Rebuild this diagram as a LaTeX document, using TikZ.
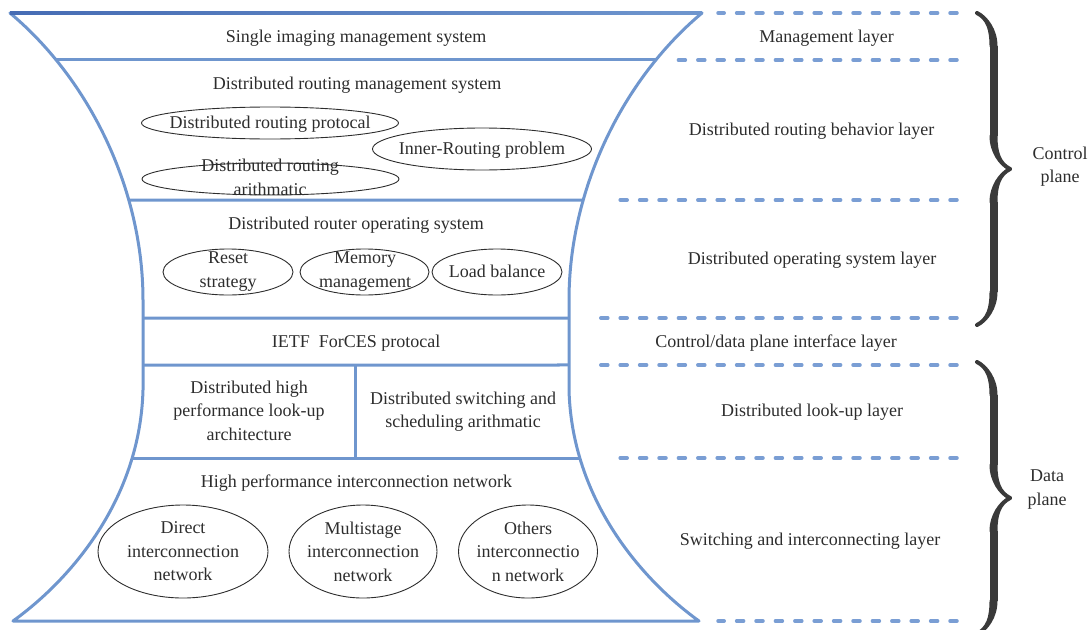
\documentclass[tikz,border=0pt]{standalone}
\usepackage{fontspec}
\setmainfont{Liberation Serif}
\usetikzlibrary{shapes.geometric,decorations.pathreplacing,intersections,calligraphy}

\definecolor{framebl}{RGB}{111,150,206}
\definecolor{framedk}{RGB}{70,108,180}
\definecolor{dashbl}{RGB}{122,158,212}
\definecolor{ink}{RGB}{45,45,45}
\definecolor{bracegray}{RGB}{58,58,58}

\begin{document}
\begin{tikzpicture}[x=1pt,y=-1pt,
  frame/.style={draw=framebl, line width=3pt, line join=round},
  divider/.style={draw=framebl, line width=3pt},
  dline/.style={draw=dashbl, line width=3.5pt, line cap=round, dash pattern=on 7pt off 12.4pt},
  txt/.style={inner sep=0pt, text=ink, font=\fontsize{18}{23.5}\selectfont, align=center, yshift=-1.5pt},
  one/.style={txt, text height=12.3pt, text depth=3.9pt},
  oval/.style={ellipse, draw=ink, line width=0.9pt, inner sep=0pt},
  plane/.style={decorate, decoration={calligraphic brace, amplitude=33pt}, pen colour=bracegray, line width=8pt},
]
\useasboundingbox (0,0) rectangle (1091,629);

% hourglass outline of the router stack
\draw[frame, name path=frame]
  (10,13) -- (702,13)
  .. controls (622,80) and (569,190) .. (569,300) -- (569,390)
  .. controls (572,500) and (642,580) .. (699,621) -- (13,621)
  .. controls (70,580) and (140,500) .. (143,390) -- (143,300)
  .. controls (143,190) and (90,80) .. (10,13) -- cycle;
\shade[left color=framedk, right color=framebl] (10,11.5) rectangle (702,14.5);

% horizontal layer separators, clipped to the outline
\path[name path=ha] (0,60) -- (720,60);
\path[name path=hb] (0,200) -- (720,200);
\path[name path=hc] (0,318) -- (720,318);
\path[name path=hd] (0,365) -- (720,365);
\path[name path=he] (0,458) -- (720,458);
\draw[divider, name intersections={of=frame and ha, name=pa}] (pa-1) -- (pa-2);
\draw[divider, name intersections={of=frame and hb, name=pb}] (pb-1) -- (pb-2);
\draw[divider, name intersections={of=frame and hc, name=pc}] (pc-1) -- (pc-2);
\draw[divider, name intersections={of=frame and hd, name=pd}] (pd-1) -- (pd-2);
\draw[divider, name intersections={of=frame and he, name=pe}] (pe-1) -- (pe-2);
\coordinate (vtop) at (355,365);
\coordinate (vbot) at (355,458);
\draw[divider] (vtop) -- (vbot);

% management layer
\node[one] (sims) at (356,37) {Single imaging management system};

% routing behaviour layer
\node[one] (drms) at (357,84) {Distributed routing management system};
\node[oval, minimum width=257pt, minimum height=32pt] (drp) at (270,123) {};
\node[one] at (drp) {Distributed routing protocal};
\node[oval, minimum width=219pt, minimum height=42pt] (irp) at (482,149) {};
\node[one] at (irp) {Inner-Routing problem};
\node[oval, minimum width=257pt, minimum height=32pt] (dra) at (270.5,179) {};
\node[txt] at (270,176) {Distributed routing\\arithmatic};

% operating system layer
\node[one] (dros) at (356,224) {Distributed router operating system};
\node[oval, minimum width=130pt, minimum height=46pt] (rst) at (228,272) {};
\node[txt] at (228,270) {Reset\\strategy};
\node[oval, minimum width=129pt, minimum height=46pt] (mem) at (364.5,272) {};
\node[txt] at (365,270) {Memory\\management};
\node[oval, minimum width=130pt, minimum height=46pt] (lb) at (497,272) {};
\node[one] at (lb) {Load balance};

% interface layer
\node[one] (forces) at (356,341.5) {IETF\ \ ForCES protocal};

% look-up layer
\node[txt] (lookup) at (249,409) {Distributed high\\performance look-up\\architecture};
\node[txt] (sched) at (463,410) {Distributed switching and\\scheduling arithmatic};

% switching layer
\node[one] (hpin) at (356.5,482) {High performance interconnection network};
\node[oval, minimum width=170pt, minimum height=93pt] (din) at (183,551.5) {};
\node[txt] at (183,550) {Direct\\interconnection\\network};
\node[oval, minimum width=148pt, minimum height=93pt] (min) at (363,551.5) {};
\node[txt] at (363,550) {Multistage\\interconnection\\network};
\node[oval, minimum width=139pt, minimum height=93pt] (oin) at (528,551.5) {};
\node[txt] at (528,550) {Others\\interconnectio\\n network};

% layer boundaries on the right
\coordinate (r0) at (957,13);  \coordinate (l0) at (718,13);
\coordinate (r1) at (957,60);  \coordinate (l1) at (676,60);
\coordinate (r2) at (957,200); \coordinate (l2) at (612,200);
\coordinate (r3) at (957,318); \coordinate (l3) at (592,318);
\coordinate (r4) at (957,365); \coordinate (l4) at (592,365);
\coordinate (r5) at (957,458); \coordinate (l5) at (612,458);
\coordinate (r6) at (957,621); \coordinate (l6) at (718,621);
\draw[dline] (r0) -- (l0);
\draw[dline] (r1) -- (l1);
\draw[dline] (r2) -- (l2);
\draw[dline] (r3) -- (l3);
\draw[dline] (r4) -- (l4);
\draw[dline] (r5) -- (l5);
\draw[dline] (r6) -- (l6);

% layer names
\node[one] (ml)  at (826.5,37)  {Management layer};
\node[one] (rbl) at (811.5,130) {Distributed routing behavior layer};
\node[one] (osl) at (812,259)   {Distributed operating system layer};
\node[one] (ifl) at (776,341.5) {Control/data plane interface layer};
\node[one] (lul) at (812,411)   {Distributed look-up layer};
\node[one] (sil) at (810,540)   {Switching and interconnecting layer};

% plane braces
\coordinate (cpa) at (977,13);  \coordinate (cpb) at (977,325);
\coordinate (dpa) at (977,362); \coordinate (dpb) at (977,634);
\draw[plane] (cpa) -- (cpb);
\draw[plane] (dpa) -- (dpb);
\node[txt] (cp) at (1060,165) {Control\\plane};
\node[txt] (dp) at (1047,488) {Data\\plane};
\end{tikzpicture}
\end{document}
